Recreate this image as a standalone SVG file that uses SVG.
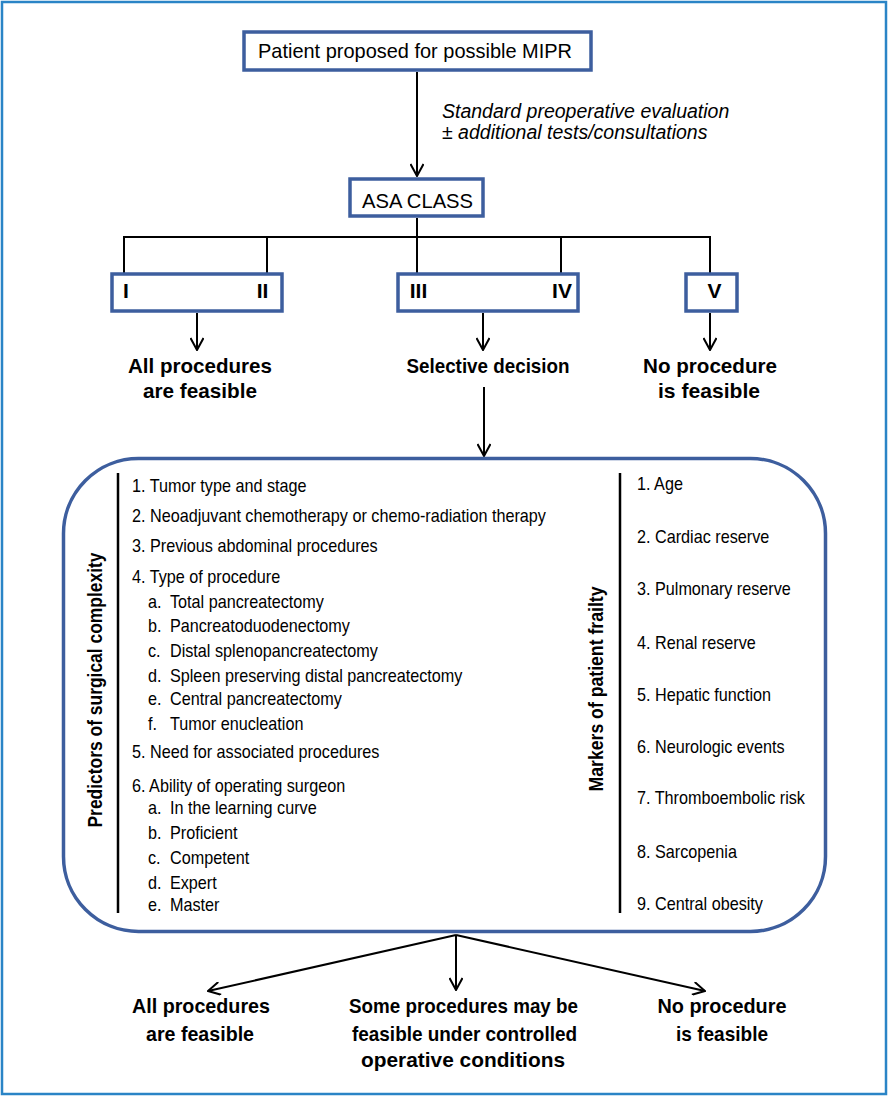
<svg xmlns="http://www.w3.org/2000/svg" width="888" height="1096" viewBox="0 0 888 1096">
<style>
.box{fill:#fff;stroke:#3d5e9e;stroke-width:3.5}
.ln{fill:none;stroke:#000;stroke-width:2}
.t{font-family:"Liberation Sans",Arial,sans-serif;fill:#000}
.b{font-family:"Liberation Sans",Arial,sans-serif;font-weight:bold;fill:#000;font-size:21px;text-anchor:middle}
.li{font-family:"Liberation Sans",Arial,sans-serif;font-size:18px;fill:#000}
</style>
<defs>
<marker id="ah" viewBox="0 0 14 14" refX="13" refY="7" markerWidth="14" markerHeight="14" markerUnits="userSpaceOnUse" orient="auto">
<path d="M1,0.5 L13,7 L1,13.5" fill="none" stroke="#000" stroke-width="2"/>
</marker>
</defs>
<rect x="2" y="2" width="884" height="1092" fill="#fff" stroke="#2a84c6" stroke-width="2.5"/>

<g id="connectors">
<line class="ln" x1="417" y1="72" x2="417" y2="176" marker-end="url(#ah)"/>
<line class="ln" x1="417" y1="218" x2="417" y2="237"/>
<line class="ln" x1="123" y1="237" x2="711" y2="237"/>
<line class="ln" x1="124" y1="237" x2="124" y2="274"/>
<line class="ln" x1="267" y1="237" x2="267" y2="274"/>
<line class="ln" x1="417" y1="237" x2="417" y2="274"/>
<line class="ln" x1="561" y1="237" x2="561" y2="274"/>
<line class="ln" x1="710" y1="237" x2="710" y2="274"/>
<line class="ln" x1="197" y1="313" x2="197" y2="350" marker-end="url(#ah)"/>
<line class="ln" x1="483" y1="313" x2="483" y2="350" marker-end="url(#ah)"/>
<line class="ln" x1="710" y1="313" x2="710" y2="350" marker-end="url(#ah)"/>
<line class="ln" x1="484" y1="387" x2="484" y2="456" marker-end="url(#ah)"/>
<line class="ln" x1="456" y1="935" x2="208" y2="991" marker-end="url(#ah)"/>
<line class="ln" x1="456" y1="935" x2="456" y2="990" marker-end="url(#ah)"/>
<line class="ln" x1="456" y1="935" x2="705" y2="991" marker-end="url(#ah)"/>
</g>

<g id="start">
<rect class="box" x="244" y="32" width="347" height="38"/>
<text class="t" x="258" y="58" font-size="21" textLength="314" lengthAdjust="spacingAndGlyphs">Patient proposed for possible MIPR</text>
</g>

<g id="eval-label">
<text class="t" x="442" y="118" font-size="19.5" font-style="italic">Standard preoperative evaluation</text>
<text class="t" x="442" y="139" font-size="19.5" font-style="italic">± additional tests/consultations</text>
</g>

<g id="asa">
<rect class="box" x="350" y="179" width="133" height="37"/>
<text class="t" x="362" y="208" font-size="21" textLength="111" lengthAdjust="spacingAndGlyphs">ASA CLASS</text>
</g>

<g id="class-1-2">
<rect class="box" x="112" y="274" width="170" height="37"/>
<text class="b" x="126" y="298">I</text>
<text class="b" x="262.5" y="298">II</text>
</g>
<g id="class-3-4">
<rect class="box" x="398" y="274" width="180" height="37"/>
<text class="b" x="418.5" y="298">III</text>
<text class="b" x="562" y="298">IV</text>
</g>
<g id="class-5">
<rect class="box" x="686" y="274" width="51" height="37"/>
<text class="b" x="714.5" y="298">V</text>
</g>

<g id="out-all-top">
<text class="b" x="200" y="373" textLength="144" lengthAdjust="spacingAndGlyphs">All procedures</text>
<text class="b" x="200" y="398" textLength="114" lengthAdjust="spacingAndGlyphs">are feasible</text>
</g>
<g id="out-selective">
<text class="b" x="488" y="373" textLength="163" lengthAdjust="spacingAndGlyphs">Selective decision</text>
</g>
<g id="out-none-top">
<text class="b" x="710" y="373" textLength="134" lengthAdjust="spacingAndGlyphs">No procedure</text>
<text class="b" x="709" y="398" textLength="102" lengthAdjust="spacingAndGlyphs">is feasible</text>
</g>

<g id="assessment">
<rect x="63.5" y="458.5" width="762" height="473" rx="75" ry="75" fill="#fff" stroke="#3d5e9e" stroke-width="3.5"/>
<line x1="118" y1="473" x2="118" y2="913" stroke="#000" stroke-width="2.5"/>
<line x1="620" y1="473" x2="620" y2="913" stroke="#000" stroke-width="2.5"/>
<text class="b" transform="translate(102,690) rotate(-90)" x="0" y="0" font-size="21" textLength="275" lengthAdjust="spacingAndGlyphs">Predictors of surgical complexity</text>
<text class="b" transform="translate(603,689) rotate(-90)" x="0" y="0" font-size="21" textLength="205" lengthAdjust="spacingAndGlyphs">Markers of patient frailty</text>
<g class="li" transform="translate(132,0) scale(0.9,1) translate(-132,0)">
<text x="132" y="492">1. Tumor type and stage</text>
<text x="132" y="522">2. Neoadjuvant chemotherapy or chemo-radiation therapy</text>
<text x="132" y="552">3. Previous abdominal procedures</text>
<text x="132" y="583">4. Type of procedure</text>
<text x="149.8" y="608">a.</text><text x="174.2" y="608">Total pancreatectomy</text>
<text x="149.8" y="632">b.</text><text x="174.2" y="632">Pancreatoduodenectomy</text>
<text x="149.8" y="657">c.</text><text x="174.2" y="657">Distal splenopancreatectomy</text>
<text x="149.8" y="682">d.</text><text x="174.2" y="682">Spleen preserving distal pancreatectomy</text>
<text x="149.8" y="705">e.</text><text x="174.2" y="705">Central pancreatectomy</text>
<text x="149.8" y="730">f.</text><text x="174.2" y="730">Tumor enucleation</text>
<text x="132" y="758">5. Need for associated procedures</text>
<text x="132" y="792">6. Ability of operating surgeon</text>
<text x="149.8" y="814">a.</text><text x="174.2" y="814">In the learning curve</text>
<text x="149.8" y="839">b.</text><text x="174.2" y="839">Proficient</text>
<text x="149.8" y="864">c.</text><text x="174.2" y="864">Competent</text>
<text x="149.8" y="889">d.</text><text x="174.2" y="889">Expert</text>
<text x="149.8" y="911">e.</text><text x="174.2" y="911">Master</text>
</g>
<g class="li" transform="translate(637,0) scale(0.9,1) translate(-637,0)">
<text x="637" y="490">1. Age</text>
<text x="637" y="543">2. Cardiac reserve</text>
<text x="637" y="595">3. Pulmonary reserve</text>
<text x="637" y="649">4. Renal reserve</text>
<text x="637" y="701">5. Hepatic function</text>
<text x="637" y="753">6. Neurologic events</text>
<text x="637" y="804">7. Thromboembolic risk</text>
<text x="637" y="858">8. Sarcopenia</text>
<text x="637" y="910">9. Central obesity</text>
</g>
</g>

<g id="out-all-bottom">
<text class="b" x="201" y="1013" textLength="138" lengthAdjust="spacingAndGlyphs">All procedures</text>
<text class="b" x="200" y="1041" textLength="108" lengthAdjust="spacingAndGlyphs">are feasible</text>
</g>
<g id="out-some-bottom">
<text class="b" x="463.5" y="1013" textLength="229" lengthAdjust="spacingAndGlyphs">Some procedures may be</text>
<text class="b" x="464.5" y="1041" textLength="225" lengthAdjust="spacingAndGlyphs">feasible under controlled</text>
<text class="b" x="463" y="1067" textLength="204" lengthAdjust="spacingAndGlyphs">operative conditions</text>
</g>
<g id="out-none-bottom">
<text class="b" x="722" y="1013" textLength="129" lengthAdjust="spacingAndGlyphs">No procedure</text>
<text class="b" x="722" y="1041" textLength="92" lengthAdjust="spacingAndGlyphs">is feasible</text>
</g>
</svg>
